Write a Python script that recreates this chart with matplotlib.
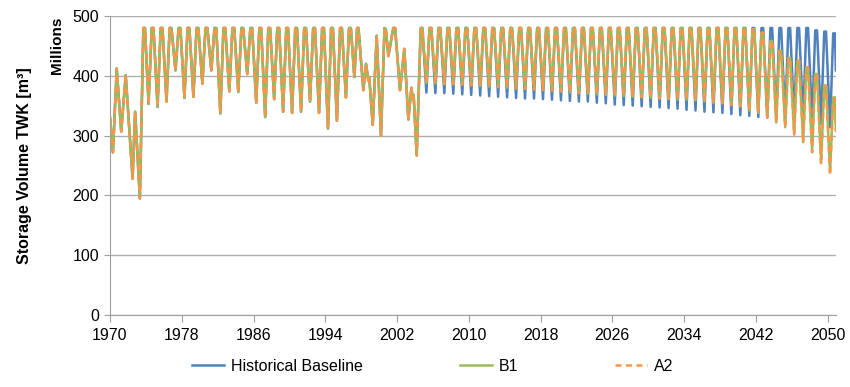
import numpy as np
import matplotlib
matplotlib.use("Agg")
import matplotlib.pyplot as plt

plt.rcParams["font.family"] = ["Liberation Sans", "DejaVu Sans"]

# shared record 1970-2004 (time in years, storage in million m3)
hist_t = [1970.00, 1970.33, 1970.75, 1971.25, 1971.75, 1972.52, 1972.80, 1973.33, 1973.72, 1973.90]
hist_v = [330, 272, 412, 307, 401, 228, 340, 195, 480, 480]

# 1974-1996: one trough and one (flat) peak per year
reg_years = list(range(1974, 1997))
reg_trough = [353, 348, 357, 409, 363, 365, 387, 409, 337, 374, 373, 403, 355,
              331, 361, 340, 338, 340, 357, 338, 312, 325, 364]
reg_peak = [480] * len(reg_years)

# 1997-2004 irregular stretch
late_t = [1997.24, 1997.55, 1997.70, 1998.24, 1998.54, 1998.80, 1998.90, 1999.29,
          1999.73, 2000.21, 2000.60, 2000.75, 2001.03, 2001.58, 2001.78, 2002.33,
          2002.81, 2003.26, 2003.60, 2003.75, 2003.85, 2004.19, 2004.64, 2004.82]
late_v = [398, 480, 480, 376, 420, 392, 398, 318,
          467, 300, 480, 478, 433, 480, 480, 376,
          445, 327, 380, 360, 368, 267, 480, 480]

# projections 2005-2050: yearly trough and peak
proj_years = list(range(2005, 2051))
base_trough = [372, 371, 371, 370, 369, 368, 367, 366, 365, 364, 363, 362, 362, 361,
               360, 359, 358, 357, 357, 355, 354, 352, 351, 350, 349, 348, 347, 346,
               345, 343, 342, 340, 339, 338, 336, 334, 333, 331, 330, 329, 328, 328,
               327, 326, 320, 314]
base_peak = [480] * 43 + [476, 474, 471]
b1_trough = [388, 387, 386, 386, 385, 384, 383, 382, 381, 380, 379, 378, 377, 376,
             375, 374, 372, 371, 370, 369, 368, 367, 366, 365, 364, 363, 362, 361,
             360, 360, 359, 357, 355, 354, 351, 349, 342, 338, 331, 322, 314, 302,
             289, 275, 256, 239]
b1_peak = [480] * 36 + [478, 472, 458, 442, 430, 425, 414, 403, 384, 364]
a2_trough = b1_trough[:-3] + [272, 252, 234]
a2_peak = b1_peak[:-2] + [383, 362]
end_t = 2050.92
base_end, b1_end, a2_end = 409, 311, 306


def series(trough, peak, end_v):
    t = list(hist_t)
    v = list(hist_v)
    for y, lo, hi in zip(reg_years, reg_trough, reg_peak):
        t += [y + 0.30, y + 0.65, y + 0.85]
        v += [lo, hi, hi]
    t += late_t
    v += late_v
    for y, lo, hi in zip(proj_years, trough, peak):
        t += [y + 0.27, y + 0.62, y + 0.82]
        v += [lo, hi, hi]
    t.append(end_t)
    v.append(end_v)
    return np.array(t), np.array(v)


fig = plt.figure(figsize=(8.5, 3.87), dpi=100)
ax = fig.add_axes([0.1294, 0.186, 0.854, 0.7726])

tb, vb = series(base_trough, base_peak, base_end)
t1, v1 = series(b1_trough, b1_peak, b1_end)
t2, v2 = series(a2_trough, a2_peak, a2_end)
ax.plot(tb, vb, color="#4F81BD", lw=1.8, label="Historical Baseline")
ax.plot(t1, v1, color="#9BBB59", lw=1.8, label="B1")
ax.plot(t2, v2, color="#F79646", lw=1.8, ls=(0, (2.4, 1.8)), label="A2")

ax.set_xlim(1970, end_t)
ax.set_ylim(0, 500)
ax.set_xticks(range(1970, 2051, 8))
ax.set_yticks(range(0, 501, 100))
ax.grid(axis="y", color="#AFAFAF", lw=1.0)
ax.set_axisbelow(True)
for s in ["top", "right"]:
    ax.spines[s].set_visible(False)
for s in ["left", "bottom"]:
    ax.spines[s].set_color("#A0A0A0")
ax.tick_params(axis="both", direction="out", color="#A0A0A0", labelsize=11.5,
               labelcolor="#000000")
ax.tick_params(axis="x", length=5, pad=4)
ax.tick_params(axis="y", length=4, pad=4)

fig.text(0.029, 0.573, "Storage Volume TWK [m³]", rotation=90, fontsize=11.5,
         fontweight="bold", ha="center", va="center")
fig.text(0.067, 0.884, "Millions", rotation=90, fontsize=11, fontweight="bold",
         ha="center", va="center")

fig.legend(loc="center", bbox_to_anchor=(0.509, 0.054), ncol=3, frameon=False,
           fontsize=11.5, handlelength=2.0, handletextpad=0.4, columnspacing=6.1)

fig.savefig("out.png", dpi=100)
